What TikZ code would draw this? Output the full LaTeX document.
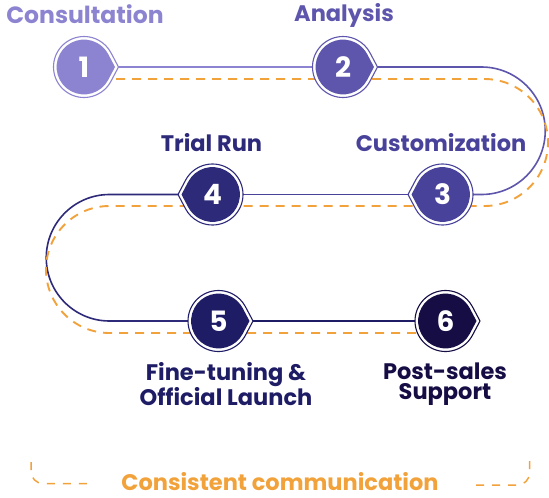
\documentclass[tikz,border=0pt]{standalone}
\usepackage{fontspec}
\setmainfont{Poppins}
\usetikzlibrary{calc}
\definecolor{cA}{HTML}{8C84D0}
\definecolor{cB}{HTML}{5E56AC}
\definecolor{cC}{HTML}{48429A}
\definecolor{cD}{HTML}{2E2A7A}
\definecolor{cE}{HTML}{1F1C66}
\definecolor{cF}{HTML}{160D44}
\definecolor{amber}{HTML}{F2A23A}
\pgfdeclarelayer{bg}
\pgfdeclarelayer{mid}
\pgfsetlayers{bg,mid,main}
% droplet-shaped badge: #1 node name, #2 pointer direction, #3 colour
\newcommand\dropbadge[3]{%
  \begin{pgfonlayer}{mid}
  \filldraw[fill=white,draw=#3,line width=1.1pt]
    (#1.center) ++(#2+28:30.5) arc[start angle=#2+28,end angle=#2+332,radius=30.5]
    -- ($(#1.center)+(#2:34.5)$) -- cycle;
  \fill[#3]
    (#1.center) ++(#2+28:27.4) arc[start angle=#2+28,end angle=#2+332,radius=27.4]
    -- ($(#1.center)+(#2:31)$) -- cycle;
  \end{pgfonlayer}}
\tikzset{
  num/.style={circle,inner sep=0pt,minimum size=50pt,text=white,
    font=\fontsize{28}{28}\selectfont\bfseries},
  lbl/.style={inner sep=0pt,align=center,
    font=\fontsize{22.5}{20.5}\selectfont\bfseries},
  track/.style={line width=1.6pt},
  guide/.style={amber,line width=1.9pt,dash pattern=on 9pt off 7pt},
  bracket/.style={amber,line width=1.5pt,dash pattern=on 8pt off 8pt},
}
\begin{document}
\begin{tikzpicture}[x=1pt,y=-1pt]
\useasboundingbox (0,0) rectangle (549,498);

% numbered badges
\node[num] (b1) at (84,67) {1};
\node[num] (b2) at (343,67) {2};
\node[num] (b3) at (442.5,194.5) {3};
\node[num] (b4) at (212.5,194.5) {4};
\node[num] (b5) at (218.5,321) {5};
\node[num] (b6) at (445.5,321) {6};
\dropbadge{b1}{0}{cA}
\dropbadge{b2}{0}{cB}
\dropbadge{b3}{180}{cC}
\dropbadge{b4}{180}{cD}
\dropbadge{b5}{0}{cE}
\dropbadge{b6}{0}{cF}

% step titles
\node[lbl,text=cA,anchor=base,font=\fontsize{23.5}{20.5}\selectfont\bfseries] (t1) at (85,23) {Consultation};
\node[lbl,text=cB,anchor=base] (t2) at (344,21) {Analysis};
\node[lbl,text=cC,anchor=base] (t3) at (441,151) {Customization};
\node[lbl,text=cD,anchor=base] (t4) at (211.5,151) {Trial Run};
\node[lbl,text=cE] (t5) at (226,384) {Fine-tuning \&\\Official Launch};
\node[lbl,text=cF] (t6) at (445,384) {Post-sales\\Support};
\node[lbl,text=amber,anchor=base] (cc) at (280,490.5) {Consistent communication};

% turning points of the track
\coordinate (rt) at (481.5,0);
\coordinate (lf) at (109.5,0);
\coordinate (rg) at (484.5,0);
\coordinate (lg) at (109.5,0);

\begin{pgfonlayer}{bg}
% solid track
\draw[track,cA] (b1.center) -- (b2.center);
\draw[track,cB] (b2.center) -- (b2 -| rt) arc[start angle=-90,end angle=90,radius=63.75] -- (b3.center);
\draw[track,cC] (b3.center) -- (b4.center);
\draw[track,cD] (b4.center) -- (b4 -| lf) arc[start angle=-90,end angle=-270,radius=63.25] -- (b5.center);
\draw[track,cE] (b5.center) -- (b6.center);
% dashed guide
\draw[guide] ([yshift=-12pt]b1.center) -- ([yshift=-12pt]b2.center -| rg)
  arc[start angle=-90,end angle=90,radius=63.5] -- ([yshift=-11.5pt]b4.center -| lg)
  arc[start angle=-90,end angle=-270,radius=63.5] -- ([yshift=-12pt]b6.center);
% bracket ends around the bottom caption
\draw[bracket] (31,462) -- (31,471.5) arc[start angle=180,end angle=90,radius=12] -- (88,483.5);
\draw[bracket] (529.5,461) -- (529.5,473) arc[start angle=0,end angle=90,radius=12] -- (473,485);
\end{pgfonlayer}
\end{tikzpicture}
\end{document}
